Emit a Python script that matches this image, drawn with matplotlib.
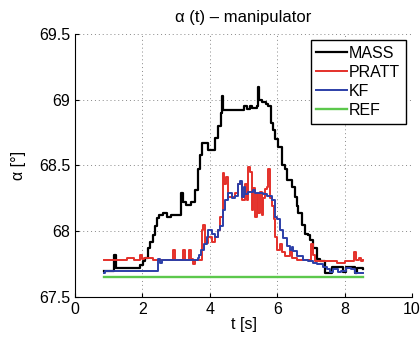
import matplotlib
matplotlib.use("Agg")
import matplotlib.pyplot as plt

plt.rcParams['font.family'] = ['Liberation Sans', 'DejaVu Sans']

# MASS estimate (black)
mass_t = [0.85, 1.15, 1.22, 1.93, 2.02, 2.08, 2.16, 2.22, 2.3, 2.36, 2.42, 2.5, 2.62, 2.72, 2.85, 3.15, 3.2, 3.28, 3.45, 3.56, 3.66, 3.72, 3.78, 3.96, 4.1, 4.15, 4.25, 4.32, 4.35, 4.38,
          5.0, 5.1, 5.2, 5.26, 5.39, 5.42, 5.46, 5.55, 5.68, 5.74, 5.83, 5.88, 5.93, 6.03, 6.13, 6.23, 6.28, 6.43, 6.53, 6.58, 6.63, 6.73, 6.82,
          6.92, 6.97, 7.07, 7.17, 7.27, 7.42, 7.63, 7.95, 8.05, 8.3, 8.36, 8.55]
mass_a = [67.70, 67.82, 67.72, 67.74, 67.77, 67.80, 67.87, 67.92, 67.97, 68.04, 68.10, 68.12, 68.14, 68.11, 68.12, 68.29, 68.22, 68.20, 68.22, 68.31, 68.47, 68.58, 68.67, 68.62, 68.62, 68.71, 68.80, 68.90, 69.03, 68.92,
          68.95, 68.93, 68.95, 68.94, 68.95, 69.10, 69.00, 68.98, 68.97, 68.95, 68.82, 68.77, 68.70, 68.64, 68.50, 68.47, 68.39, 68.34, 68.26, 68.19, 68.14, 68.05, 67.98,
          67.97, 67.93, 67.87, 67.79, 67.77, 67.68, 67.73, 67.69, 67.73, 67.68, 67.72, 67.71]

# PRATT estimate (red)
pratt_t = [0.85, 1.53, 1.76, 1.93, 1.98, 2.05, 2.3, 2.9, 2.96, 3.2, 3.26, 3.38, 3.44, 3.5, 3.56, 3.76, 3.81, 3.86, 3.96, 4.05, 4.15, 4.25, 4.3, 4.38,
           4.43, 4.48, 4.55, 4.75, 4.85, 4.95, 5.05, 5.09, 5.14, 5.19, 5.24, 5.29, 5.34, 5.39, 5.44, 5.49, 5.54, 5.59, 5.64, 5.69, 5.74, 5.79,
           5.84, 5.89, 5.94, 5.98, 6.08, 6.13, 6.23, 6.38, 6.43, 6.58, 6.97, 7.0, 7.05, 7.12, 7.76, 8.0, 8.28, 8.33, 8.42, 8.48, 8.55]
pratt_a = [67.78, 67.80, 67.78, 67.82, 67.79, 67.80, 67.78, 67.86, 67.78, 67.86, 67.78, 67.86, 67.79, 67.75, 67.78, 68.01, 68.05, 67.91, 67.96, 67.92, 67.96, 68.01, 68.11, 68.44,
           68.36, 68.41, 68.26, 68.29, 68.36, 68.24, 68.36, 68.24, 68.49, 68.45, 68.16, 68.33, 68.11, 68.28, 68.14, 68.30, 68.12, 68.25, 68.32, 68.34, 68.47, 68.25,
           68.19, 68.09, 67.96, 67.86, 67.90, 67.84, 67.81, 67.85, 67.80, 67.78, 67.78, 67.90, 67.82, 67.77, 67.76, 67.77, 67.84, 67.78, 67.80, 67.77, 67.78]

# KF estimate (blue)
kf_t = [0.85, 0.9, 2.47, 2.52, 2.58, 3.64, 3.68, 3.74, 3.84, 3.91, 3.96, 4.05, 4.15, 4.25, 4.3, 4.4, 4.45, 4.55, 4.65, 4.75, 4.85, 4.9, 4.95, 5.0, 5.05,
        5.14, 5.29, 5.34, 5.49, 5.59, 5.69, 5.84, 5.94, 5.98, 6.08, 6.18, 6.28, 6.38, 6.43, 6.48, 6.58, 6.77, 6.92, 7.07, 7.17, 7.37, 7.47, 7.57,
        7.66, 7.8, 7.9, 8.05, 8.2, 8.31, 8.55]
kf_a = [67.68, 67.70, 67.79, 67.76, 67.78, 67.80, 67.82, 67.86, 67.90, 67.96, 68.01, 67.98, 67.96, 68.01, 68.04, 68.16, 68.24, 68.29, 68.25, 68.27, 68.36, 68.38, 68.26, 68.34, 68.28,
        68.30, 68.31, 68.29, 68.29, 68.28, 68.27, 68.24, 68.11, 68.09, 68.01, 67.95, 67.89, 67.86, 67.88, 67.85, 67.81, 67.78, 67.77, 67.76, 67.75, 67.73, 67.71, 67.69,
        67.71, 67.69, 67.70, 67.72, 67.71, 67.68, 67.68]

# reference (green)
ref_t = [0.85, 8.55]
ref_a = [67.655, 67.655]

fig = plt.figure(figsize=(4.2, 3.4), dpi=100)
ax = fig.add_axes([0.1786, 0.1265, 0.8024, 0.7735])

ax.plot(mass_t, mass_a, color="black", lw=1.6, drawstyle="steps-post", label="MASS")
ax.plot(pratt_t, pratt_a, color="#e4302a", lw=1.4, drawstyle="steps-post", label="PRATT")
ax.plot(kf_t, kf_a, color="#2c3fa8", lw=1.4, drawstyle="steps-post", label="KF")
ax.plot(ref_t, ref_a, color="#5cc84c", lw=1.7, label="REF")

ax.set_xlim(0, 10)
ax.set_ylim(67.5, 69.5)
ax.set_xticks([0, 2, 4, 6, 8, 10])
ax.set_yticks([67.5, 68, 68.5, 69, 69.5])
ax.set_yticklabels(["67.5", "68", "68.5", "69", "69.5"])
ax.grid(True, linestyle=(0, (1, 3)), color="#888888", lw=0.7)
ax.spines["top"].set_visible(False)
ax.spines["right"].set_visible(False)
ax.tick_params(direction="in", labelsize=11.5, length=3)

ax.set_xlabel("t [s]", fontsize=11.5, labelpad=0)
ax.set_ylabel("α [°]", fontsize=11.5, labelpad=9)
ax.set_title("α (t) – manipulator", fontsize=12, pad=9)

leg = ax.legend(loc="upper right", fontsize=11.5, fancybox=False, framealpha=1,
                edgecolor="black", handlelength=1.9, handletextpad=0.15,
                labelspacing=0.25, borderpad=0.35, borderaxespad=0.4)
leg.get_frame().set_linewidth(1.0)

fig.savefig("out.png", dpi=100)
